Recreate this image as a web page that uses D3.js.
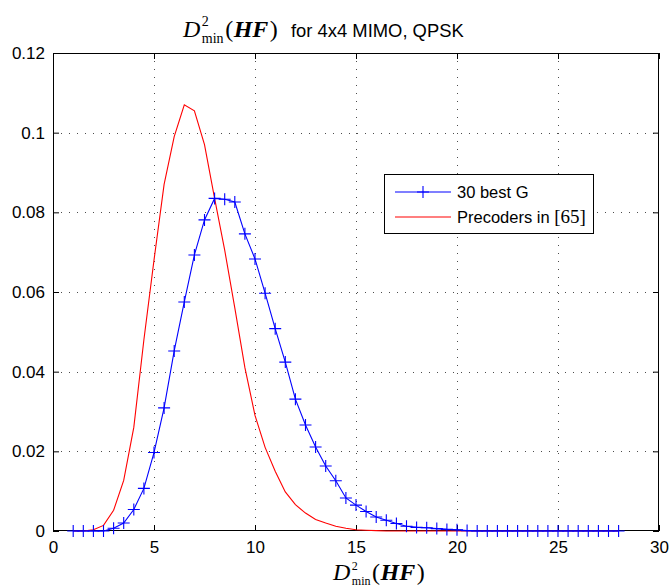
<!DOCTYPE html>
<html><head><meta charset="utf-8">
<script src="https://cdn.jsdelivr.net/npm/d3@7"></script>
<style>body{margin:0;background:#fff}</style>
</head><body>
<svg id="c" width="671" height="588"></svg>
<script>
const xs = [1,1.5,2,2.5,3,3.5,4,4.5,5,5.5,6,6.5,7,7.5,8,8.5,9,9.5,10,10.5,11,11.5,12,12.5,13,13.5,14,14.5,15,15.5,16,16.5,17,17.5,18,18.5,19,19.5,20,20.5,21,21.5,22,22.5,23,23.5,24,24.5,25,25.5,26,26.5,27,27.5,28];
const best30G = [0,0,0,0,0.0007,0.002,0.0054,0.0107,0.0197,0.0309,0.0452,0.0575,0.0693,0.0781,0.0835,0.0833,0.0826,0.0746,0.0683,0.0597,0.0508,0.0424,0.0331,0.0266,0.0211,0.0163,0.0126,0.0083,0.0065,0.0049,0.0035,0.0027,0.0019,0.0012,0.0009,0.0008,0.0006,0.0004,0.0003,0.0001,0,0,0,0,0,0,0,0,0,0,0,0,0,0,0];
const precoders65 = [0,0,0.0003,0.0014,0.0052,0.0127,0.026,0.048,0.068,0.087,0.099,0.107,0.1055,0.097,0.0835,0.0705,0.056,0.041,0.029,0.021,0.015,0.0098,0.0066,0.0045,0.0029,0.002,0.0012,0.0007,0.0003,0.0002,0.0001,0,0,0,0,0,0,0,0,0,0,0,0,0,0,0,0,0,0,0,0,0,0,0,0];
const xTicks = [0,5,10,15,20,25,30];
const yTicks = [0,0.02,0.04,0.06,0.08,0.1,0.12];
const yTickLabels = ["0","0.02","0.04","0.06","0.08","0.1","0.12"];
const legendLabels = ["30 best G","Precoders in "];

const L=53,R=659,T=53,B=531;
const svg=d3.select("#c");
const x=d3.scaleLinear().domain([0,30]).range([L,R]);
const y=d3.scaleLinear().domain([0,0.12]).range([B,T]);
const SANS="'Liberation Sans', Arial, Helvetica, sans-serif";
const SERIF="'Liberation Serif', 'Times New Roman', serif";

// grid
const grid=svg.append("g").attr("stroke","#000").attr("stroke-width",1).attr("stroke-dasharray","1,7");
xTicks.slice(1,-1).forEach(t=>grid.append("line").attr("x1",Math.round(x(t))+0.5).attr("x2",Math.round(x(t))+0.5).attr("y1",T).attr("y2",B).attr("stroke-opacity",0.7));
yTicks.slice(1,-1).forEach(t=>grid.append("line").attr("y1",Math.round(y(t))+0.5).attr("y2",Math.round(y(t))+0.5).attr("x1",L).attr("x2",R).attr("stroke-opacity",0.7));

// axes with inward ticks
const ax=svg.append("g");
ax.append("g").attr("transform",`translate(0,${B})`).call(d3.axisBottom(x).tickValues(xTicks).tickSizeInner(-6).tickSizeOuter(0).tickPadding(10));
ax.append("g").attr("transform",`translate(0,${T})`).call(d3.axisTop(x).tickValues(xTicks).tickSizeInner(-6).tickSizeOuter(0).tickFormat(""));
ax.append("g").attr("transform",`translate(${L},0)`).call(d3.axisLeft(y).tickValues(yTicks).tickSizeInner(-6).tickSizeOuter(0).tickPadding(8).tickFormat((d,i)=>yTickLabels[i]));
ax.append("g").attr("transform",`translate(${R},0)`).call(d3.axisRight(y).tickValues(yTicks).tickSizeInner(-6).tickSizeOuter(0).tickFormat(""));
ax.selectAll(".domain").remove();
ax.selectAll("line").attr("stroke","#000");
ax.selectAll("text").attr("font-family",SANS).attr("font-size",17).attr("fill","#000");
svg.append("rect").attr("x",L+0.5).attr("y",T+0.5).attr("width",R-L-1).attr("height",B-T-1).attr("fill","none").attr("stroke","#000").attr("stroke-width",1);

// lines
const line=d3.line().x((d,i)=>x(xs[i])).y(d=>y(d));
svg.append("path").datum(precoders65).attr("d",line).attr("fill","none").attr("stroke","#ff0000").attr("stroke-width",1.1);
svg.append("path").datum(best30G).attr("d",line).attr("fill","none").attr("stroke","#0000ff").attr("stroke-width",1.1);
const plus=(g,cx,cy)=>{g.append("path").attr("d",`M${cx-6},${cy}H${cx+6}M${cx},${cy-6}V${cy+6}`).attr("stroke","#0000ff").attr("stroke-width",1.1).attr("fill","none");};
const mk=svg.append("g");
best30G.forEach((v,i)=>plus(mk,x(xs[i]),y(v)));

// math label: one text element, tspans placed by measured widths
function measure(txt,fam,sz,style,weight){
  const t=svg.append("text").attr("font-family",fam).attr("font-size",sz).attr("font-style",style).attr("font-weight",weight).text(txt);
  const w=t.node().getComputedTextLength(); t.remove(); return w;
}
function mathLabel(x0,yb,size,scr,supDy,subDy,tail,tailX){
  const parts=[];
  let cx=x0;
  parts.push({t:"D",f:SERIF,s:size,st:"italic",w:"normal",x:cx,y:yb});
  cx+=measure("D",SERIF,size,"italic","normal")+1.5;
  parts.push({t:"2",f:SERIF,s:scr,st:"normal",w:"normal",x:cx,y:yb-supDy});
  parts.push({t:"min",f:SERIF,s:scr,st:"normal",w:"normal",x:cx,y:yb+subDy});
  cx+=Math.max(measure("2",SERIF,scr,"normal","normal"),measure("min",SERIF,scr,"normal","normal"))+1.5;
  parts.push({t:"(",f:SERIF,s:size,st:"normal",w:"normal",x:cx,y:yb});
  cx+=measure("(",SERIF,size,"normal","normal")+0.5;
  parts.push({t:"HF",f:SERIF,s:size,st:"italic",w:"bold",x:cx,y:yb});
  cx+=measure("HF",SERIF,size,"italic","bold")+1.5;
  parts.push({t:")",f:SERIF,s:size,st:"normal",w:"normal",x:cx,y:yb});
  if(tail) parts.push({t:tail,f:SANS,s:18.4,st:"normal",w:"normal",x:tailX,y:yb});
  const txt=svg.append("text");
  parts.forEach(p=>txt.append("tspan").attr("x",p.x).attr("y",p.y).attr("font-family",p.f).attr("font-size",p.s).attr("font-style",p.st).attr("font-weight",p.w).text(p.t));
  return txt;
}
mathLabel(183,37,24,14,11,6,"for 4x4 MIMO, QPSK",291);
mathLabel(333,580,24,12,10,5,null);

// legend
const lg=svg.append("g");
lg.append("rect").attr("x",384.5).attr("y",174.5).attr("width",209).attr("height",59).attr("fill","#fff").attr("stroke","#000").attr("stroke-width",1);
lg.append("line").attr("x1",395).attr("x2",451).attr("y1",192).attr("y2",192).attr("stroke","#0000ff").attr("stroke-width",1.1);
plus(lg,423,192);
lg.append("line").attr("x1",395).attr("x2",451).attr("y1",217).attr("y2",217).attr("stroke","#ff0000").attr("stroke-width",1.1);
lg.append("text").attr("x",457).attr("y",198).attr("font-family",SANS).attr("font-size",16.5).text(legendLabels[0]);
const t2=lg.append("text").attr("x",457).attr("y",223).attr("font-family",SANS).attr("font-size",16.5);
t2.append("tspan").text(legendLabels[1]);
t2.append("tspan").attr("font-family",SERIF).attr("font-size",19).text("[65]");
</script>
</body></html>
